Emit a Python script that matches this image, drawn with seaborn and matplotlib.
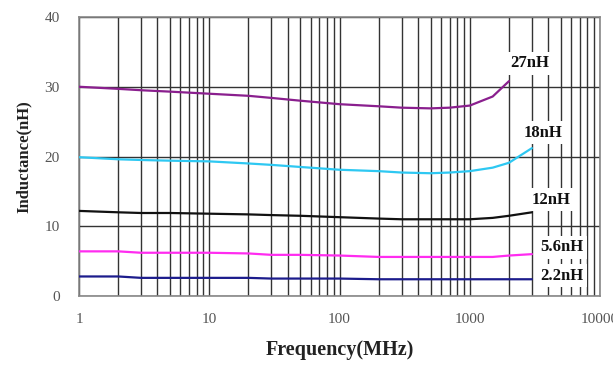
import matplotlib
matplotlib.use("Agg")
import matplotlib.pyplot as plt
import matplotlib.ticker as mticker
import numpy as np
import pandas as pd
import seaborn as sns

# Frequency sweep points (MHz)
freq = [1, 2, 3, 5, 10, 20, 30, 50, 100, 200, 300, 500, 700, 1000, 1500, 2000, 3000]

# Measured inductance (nH) for each part value
l_27n = [30.0, 29.7, 29.5, 29.3, 29.0, 28.7, 28.4, 28.0, 27.5, 27.2, 27.0, 26.9, 27.0, 27.3, 28.6, 30.8]
l_18n = [19.9, 19.6, 19.5, 19.4, 19.3, 19.0, 18.8, 18.5, 18.1, 17.9, 17.7, 17.6, 17.7, 17.9, 18.4, 19.1, 21.2]
l_12n = [12.2, 12.0, 11.9, 11.9, 11.8, 11.7, 11.6, 11.5, 11.3, 11.1, 11.0, 11.0, 11.0, 11.0, 11.2, 11.5, 12.0]
l_5n6 = [6.4, 6.4, 6.2, 6.2, 6.2, 6.1, 5.9, 5.9, 5.8, 5.6, 5.6, 5.6, 5.6, 5.6, 5.6, 5.8, 6.0]
l_2n2 = [2.8, 2.8, 2.6, 2.6, 2.6, 2.6, 2.5, 2.5, 2.5, 2.4, 2.4, 2.4, 2.4, 2.4, 2.4, 2.4, 2.4]

series_names = ["27nH", "18nH", "12nH", "5.6nH", "2.2nH"]
series_values = [l_27n, l_18n, l_12n, l_5n6, l_2n2]
series_colors = ["#8a1f8e", "#2ec8f2", "#111111", "#ff2cf0", "#1c1c8c"]
# label anchor positions (frequency, inductance)
label_pos = [(2900, 33.4), (3650, 23.4), (4200, 13.8), (5100, 7.0), (5100, 2.9)]

x_ticks = [1, 10, 100, 1000, 10000]
x_tick_labels = ["1", "10", "100", "1000", "10000"]
y_ticks = [0, 10, 20, 30, 40]

sns.set_theme(style="white")
plt.rcParams["font.family"] = ["Liberation Serif", "DejaVu Serif"]

fig = plt.figure(figsize=(6.13, 3.65), dpi=100)
ax = fig.add_axes([79 / 613, 1 - 296 / 365, (600 - 79) / 613, (296 - 17) / 365])

rows = []
for name, vals in zip(series_names, series_values):
    for f, v in zip(freq, vals):
        rows.append({"freq": f, "L": v, "part": name})
df = pd.DataFrame(rows)

ax.set_xscale("log")
ax.set_xlim(1, 10000)
ax.set_ylim(0, 40)

# grid: every decade sub-division plus the 10 nH lines
ax.xaxis.set_major_locator(mticker.FixedLocator(x_ticks))
ax.xaxis.set_minor_locator(mticker.LogLocator(base=10, subs=np.arange(2, 10)))
ax.grid(True, which="major", axis="both", color="#333333", linewidth=1.0, zorder=0)
ax.grid(True, which="minor", axis="x", color="#333333", linewidth=1.0, zorder=0)
ax.set_axisbelow(True)

sns.lineplot(data=df, x="freq", y="L", hue="part", hue_order=series_names,
             palette=dict(zip(series_names, series_colors)), linewidth=1.6,
             legend=False, ax=ax, zorder=3)

for name, (fx, fy) in zip(series_names, label_pos):
    ax.text(fx, fy, name, ha="center", va="center", fontsize=12, fontweight="bold",
            color="#111111", zorder=4,
            bbox=dict(facecolor="white", edgecolor="none", pad=2.5))

ax.set_xticks(x_ticks)
ax.set_xticklabels(x_tick_labels)
ax.set_yticks(y_ticks)
ax.tick_params(axis="both", which="both", length=0, labelsize=11, labelcolor="#555555")
ax.tick_params(axis="x", pad=12)
ax.tick_params(axis="y", pad=14)

for sp in ax.spines.values():
    sp.set_color("#888888")
    sp.set_linewidth(1.2)

ax.set_xlabel("Frequency(MHz)", fontsize=14.5, fontweight="bold", color="#222222", labelpad=10)
ax.set_ylabel("Inductance(nH)", fontsize=12, fontweight="bold", color="#222222", labelpad=9)

fig.savefig("out.png", dpi=100)
